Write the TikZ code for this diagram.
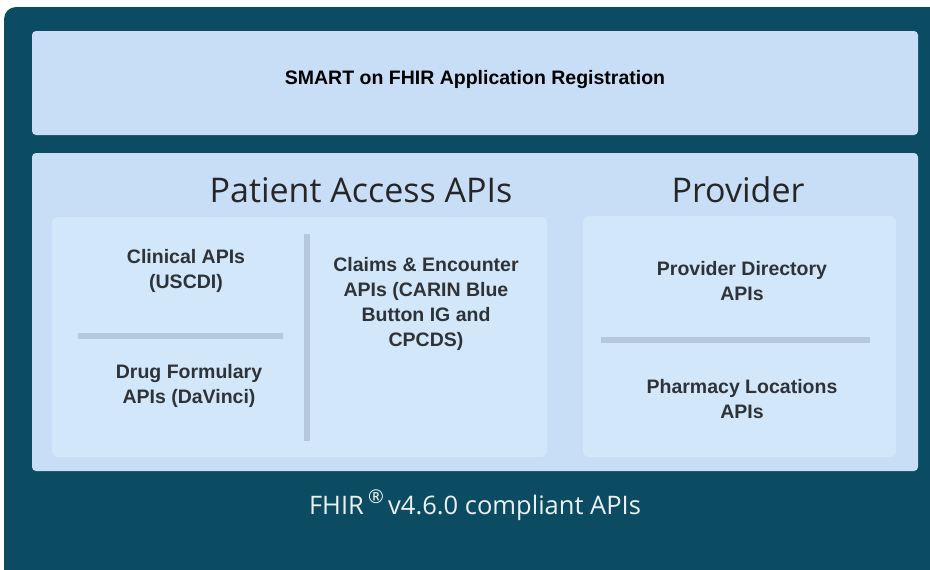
\documentclass[tikz,border=0pt]{standalone}
\usepackage{fontspec}
\setmainfont{Open Sans}
\newfontfamily\labelfont{Liberation Sans}
\usetikzlibrary{positioning}
\definecolor{darkbg}{HTML}{0B4C63}
\definecolor{lightbox}{HTML}{C8DEF7}
\definecolor{innerbox}{HTML}{D3E7FA}
\definecolor{sepline}{HTML}{B5C8DE}
\definecolor{labeltext}{HTML}{2E3338}
\tikzset{
  panel/.style={fill=lightbox, draw=none, rounded corners=4pt},
  subpanel/.style={fill=innerbox, draw=none, rounded corners=6pt},
  sep/.style={draw=sepline, line width=5.5pt},
  lbl/.style={font=\labelfont\fontsize{19.5}{25}\selectfont\bfseries, text=labeltext, align=center},
  big/.style={font=\fontsize{34}{40}\selectfont, text=black!85},
}
\begin{document}
\begin{tikzpicture}[x=1pt,y=-1pt]
\useasboundingbox (0,0) rectangle (930,570);
\begin{scope}
\clip (0,0) rectangle (930,570);
\fill[darkbg, rounded corners=12pt] (4,7) rectangle (950,590);
\end{scope}
\fill[panel] (32,31) rectangle (918,135);
\fill[panel] (32,153) rectangle (918,471);
\fill[subpanel] (52,217) rectangle (547,457);
\fill[subpanel] (583,216) rectangle (896,457);
\draw[sep] (78,336) -- (283,336);
\draw[sep] (307,234) -- (307,441);
\draw[sep] (601,340) -- (870,340);
\node[lbl, font=\labelfont\fontsize{19.5}{22}\selectfont\bfseries, text=black] (smart) at (475,80) {SMART on FHIR Application Registration};
\node[big] (patient) at (361,190) {Patient Access APIs};
\node[big] (provider) at (738,190) {Provider};
\node[lbl] (clinical) at (186,271) {Clinical APIs\\(USCDI)};
\node[lbl] (drug) at (189,386) {Drug Formulary\\APIs (DaVinci)};
\node[lbl] (claims) at (426,304) {Claims \& Encounter\\APIs (CARIN Blue\\Button IG and\\CPCDS)};
\node[lbl] (provdir) at (742,281) {Provider Directory\\APIs};
\node[lbl] (pharm) at (742,399) {Pharmacy Locations\\APIs};
\node[font=\fontsize{25.5}{30}\selectfont, text=white!92!darkbg] (fhir) at (475,505) {FHIR\,\raisebox{0.45em}{\fontsize{19}{19}\selectfont\textregistered}\,v4.6.0 compliant APIs};
\end{tikzpicture}
\end{document}
